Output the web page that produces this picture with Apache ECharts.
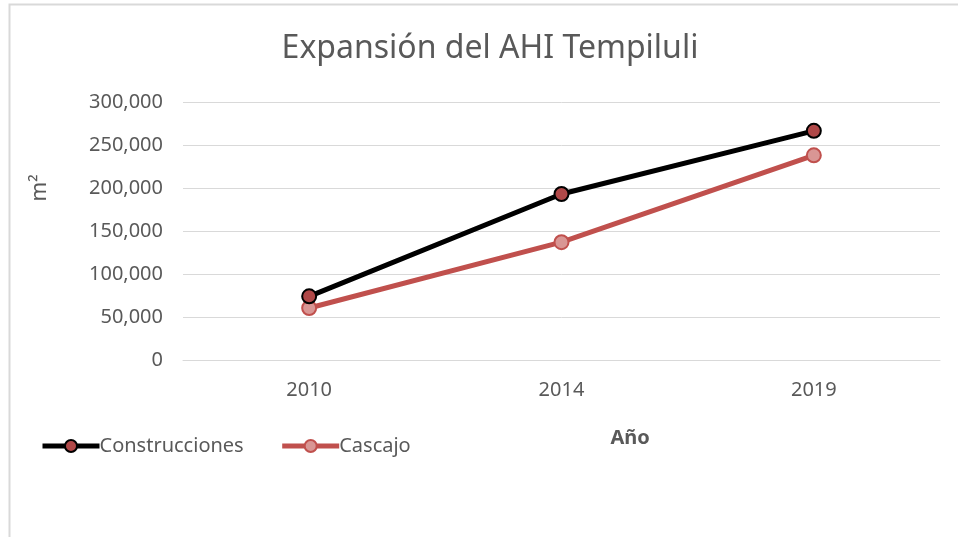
<!DOCTYPE html>
<html>
<head>
<meta charset="utf-8">
<script src="https://cdn.jsdelivr.net/npm/echarts@6/dist/echarts.min.js"></script>
<style>
  html, body { margin: 0; padding: 0; background: #fff; }
  #chart { width: 958px; height: 537px; }
</style>
</head>
<body>
<div id="chart"></div>
<script>
// años y valores (m2)
var years = ['2010', '2014', '2019'];
var construcciones = [74000, 193000, 266500];
var cascajo = [60500, 137000, 238000];

var textColor = '#595959';
var font = 'Noto Sans';

var chart = echarts.init(document.getElementById('chart'));
chart.setOption({
  backgroundColor: '#fff',
  textStyle: { fontFamily: font, color: textColor },
  title: {
    text: 'Expansión del AHI Tempiluli',
    left: 485,
    textAlign: 'center',
    top: 28,
    textStyle: { fontFamily: font, fontSize: 32, fontWeight: 'normal', color: textColor }
  },
  legend: {
    left: 35,
    top: 431,
    itemWidth: 57,
    itemHeight: 15,
    itemGap: 36,
    lineStyle: { width: 5 },
    textStyle: { fontFamily: font, fontSize: 20, color: textColor, padding: [0, 0, 0, -5] },
    data: ['Construcciones', 'Cascajo']
  },
  grid: { left: 183, right: 18, top: 102, bottom: 177 },
  xAxis: {
    type: 'category',
    data: years,
    boundaryGap: true,
    axisLine: { lineStyle: { color: '#d9d9d9', width: 1 } },
    axisTick: { show: false },
    axisLabel: { fontFamily: font, fontSize: 20, color: textColor, margin: 20 },
    name: 'Año',
    nameLocation: 'middle',
    nameGap: 68,
    nameTextStyle: { fontFamily: font, fontSize: 20, fontWeight: 'bold', color: textColor, align: 'left', padding: [0, 0, 0, 49] }
  },
  yAxis: {
    type: 'value',
    min: 0,
    max: 300000,
    interval: 50000,
    axisLine: { show: false },
    axisTick: { show: false },
    splitLine: { lineStyle: { color: '#d9d9d9', width: 1 } },
    axisLabel: {
      fontFamily: font, fontSize: 20, color: textColor, margin: 20,
      formatter: function (v) { return v.toLocaleString('en-US'); }
    }
  },
  graphic: [
    {
      type: 'rect',
      shape: { x: 9.5, y: 4.5, width: 1000, height: 600 },
      style: { fill: 'none', stroke: '#d9d9d9', lineWidth: 2 },
      silent: true,
      z: -1
    },
    {
      type: 'text',
      x: 40,
      y: 188,
      rotation: Math.PI / 2,
      style: {
        text: 'm²', fill: textColor, fontFamily: font, fontSize: 21,
        align: 'center', verticalAlign: 'middle'
      }
    }
  ],
  series: [
    {
      name: 'Construcciones',
      type: 'line',
      data: construcciones,
      symbol: 'circle',
      symbolSize: 14,
      lineStyle: { color: '#000', width: 5 },
      itemStyle: { color: '#b04848', borderColor: '#000', borderWidth: 2 },
      z: 3
    },
    {
      name: 'Cascajo',
      type: 'line',
      data: cascajo,
      symbol: 'circle',
      symbolSize: 14,
      lineStyle: { color: '#c0504d', width: 5 },
      itemStyle: { color: '#d99694', borderColor: '#c0504d', borderWidth: 2 },
      z: 2
    }
  ]
});
</script>
</body>
</html>
